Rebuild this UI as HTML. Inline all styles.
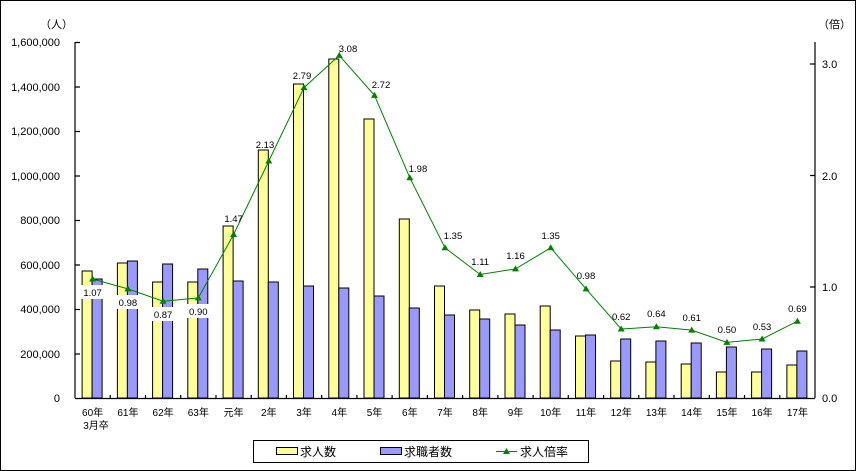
<!DOCTYPE html>
<html><head><meta charset="utf-8"><style>
body{margin:0;background:#fff}
svg{display:block;font-family:"Liberation Sans","Noto Sans CJK JP",sans-serif}
</style></head><body>
<svg width="856" height="471" viewBox="0 0 856 471" xmlns="http://www.w3.org/2000/svg">
<rect x="0.5" y="0.5" width="855" height="470" fill="#fff" stroke="#000"/>
<g font-size="11" text-anchor="end" fill="#000">
<text x="60" y="46">1,600,000</text><text x="60" y="91">1,400,000</text><text x="60" y="135">1,200,000</text><text x="60" y="180">1,000,000</text><text x="60" y="224">800,000</text><text x="60" y="269">600,000</text><text x="60" y="313">400,000</text><text x="60" y="358">200,000</text><text x="60" y="402">0</text>
</g>
<text x="40" y="28" font-size="11">（人）</text>
<text x="818" y="28" font-size="11">（倍）</text>
<g font-size="11" fill="#000">
<text x="822" y="68">3.0</text><text x="822" y="180">2.0</text><text x="822" y="291">1.0</text><text x="822" y="402">0.0</text>
</g>
<g fill="#ffff99" stroke="#000" stroke-width="1">
<rect x="82.1" y="271" width="10" height="127"/><rect x="117.4" y="263" width="10" height="135"/><rect x="152.6" y="282" width="10" height="116"/><rect x="187.8" y="282" width="10" height="116"/><rect x="223.1" y="226" width="10" height="172"/><rect x="258.3" y="150" width="10" height="248"/><rect x="293.5" y="84" width="10" height="314"/><rect x="328.8" y="59" width="10" height="339"/><rect x="364" y="119" width="10" height="279"/><rect x="399.3" y="219" width="10" height="179"/><rect x="434.5" y="286" width="10" height="112"/><rect x="469.7" y="310" width="10" height="88"/><rect x="505" y="314" width="10" height="84"/><rect x="540.2" y="306" width="10" height="92"/><rect x="575.5" y="336" width="10" height="62"/><rect x="610.7" y="361" width="10" height="37"/><rect x="645.9" y="362" width="10" height="36"/><rect x="681.2" y="364" width="10" height="34"/><rect x="716.4" y="372" width="10" height="26"/><rect x="751.6" y="372" width="10" height="26"/><rect x="786.9" y="365" width="10" height="33"/>
</g>
<g fill="#9999ff" stroke="#000" stroke-width="1">
<rect x="92.1" y="279" width="10" height="119"/><rect x="127.4" y="261" width="10" height="137"/><rect x="162.6" y="264" width="10" height="134"/><rect x="197.8" y="269" width="10" height="129"/><rect x="233.1" y="281" width="10" height="117"/><rect x="268.3" y="282" width="10" height="116"/><rect x="303.5" y="286" width="10" height="112"/><rect x="338.8" y="288" width="10" height="110"/><rect x="374" y="296" width="10" height="102"/><rect x="409.3" y="308" width="10" height="90"/><rect x="444.5" y="315" width="10" height="83"/><rect x="479.7" y="319" width="10" height="79"/><rect x="515" y="325" width="10" height="73"/><rect x="550.2" y="330" width="10" height="68"/><rect x="585.5" y="335" width="10" height="63"/><rect x="620.7" y="339" width="10" height="59"/><rect x="655.9" y="341" width="10" height="57"/><rect x="691.2" y="343" width="10" height="55"/><rect x="726.4" y="347" width="10" height="51"/><rect x="761.6" y="349" width="10" height="49"/><rect x="796.9" y="351" width="10" height="47"/>
</g>
<g stroke="#000" stroke-width="1.2">
<line x1="75" y1="42" x2="75" y2="398"/><line x1="815" y1="42" x2="815" y2="398"/><line x1="75" y1="398.5" x2="815" y2="398.5"/>
<path d="M75 42.5h5M75 87h5M75 131.5h5M75 176h5M75 220.5h5M75 265h5M75 309.5h5M75 354h5M815 64h-5M815 175.5h-5M815 287h-5"/>
<path d="M110.2 398v-3M145.5 398v-3M180.7 398v-3M216 398v-3M251.2 398v-3M286.4 398v-3M321.7 398v-3M356.9 398v-3M392.1 398v-3M427.4 398v-3M462.6 398v-3M497.9 398v-3M533.1 398v-3M568.3 398v-3M603.6 398v-3M638.8 398v-3M674 398v-3M709.3 398v-3M744.5 398v-3M779.8 398v-3"/>
</g>
<polyline fill="none" stroke="#008000" stroke-width="1" points="92.6,279 127.9,288.9 163.1,301.2 198.3,297.9 233.6,234.5 268.8,161 304,87.6 339.3,55.4 374.5,95.4 409.8,177.7 445,247.8 480.2,274.5 515.5,268.9 550.7,247.8 586,288.9 621.2,329 656.4,326.8 691.7,330.1 726.9,342.4 762.1,339 797.4,321.2"/>
<g fill="#008000">
<path d="M92.6 275.5l3.5 6h-7z M127.9 285.4l3.5 6h-7z M163.1 297.7l3.5 6h-7z M198.3 294.4l3.5 6h-7z M233.6 231l3.5 6h-7z M268.8 157.5l3.5 6h-7z M304 84.1l3.5 6h-7z M339.3 51.9l3.5 6h-7z M374.5 91.9l3.5 6h-7z M409.8 174.2l3.5 6h-7z M445 244.3l3.5 6h-7z M480.2 271l3.5 6h-7z M515.5 265.4l3.5 6h-7z M550.7 244.3l3.5 6h-7z M586 285.4l3.5 6h-7z M621.2 325.5l3.5 6h-7z M656.4 323.3l3.5 6h-7z M691.7 326.6l3.5 6h-7z M726.9 338.9l3.5 6h-7z M762.1 335.5l3.5 6h-7z M797.4 317.7l3.5 6h-7z"/>
</g>
<g fill="#fff"><rect x="79" y="285" width="26" height="14"/><rect x="114" y="295" width="26" height="14"/><rect x="149" y="307" width="26" height="14"/><rect x="184" y="304" width="26" height="14"/></g>
<g font-size="9.5" text-anchor="middle" fill="#000">
<text x="92.6" y="296">1.07</text><text x="127.9" y="306">0.98</text><text x="163.1" y="318">0.87</text><text x="198.3" y="315">0.90</text>
<text x="233.6" y="222">1.47</text><text x="265" y="148">2.13</text><text x="302" y="79">2.79</text><text x="348" y="52">3.08</text><text x="381" y="88">2.72</text><text x="418" y="172">1.98</text><text x="453" y="239">1.35</text><text x="480.2" y="265">1.11</text><text x="515.5" y="259">1.16</text><text x="550.7" y="239">1.35</text><text x="586" y="279">0.98</text><text x="621.2" y="320">0.62</text><text x="656.4" y="317">0.64</text><text x="691.7" y="321">0.61</text><text x="726.9" y="333">0.50</text><text x="762.1" y="330">0.53</text><text x="797.4" y="312">0.69</text>
</g>
<g font-size="10" text-anchor="middle" fill="#000">
<text x="92.6" y="416">60年</text><text x="96" y="429">3月卒</text><text x="127.9" y="416">61年</text><text x="163.1" y="416">62年</text><text x="198.3" y="416">63年</text><text x="233.6" y="416">元年</text><text x="268.8" y="416">2年</text><text x="304" y="416">3年</text><text x="339.3" y="416">4年</text><text x="374.5" y="416">5年</text><text x="409.8" y="416">6年</text><text x="445" y="416">7年</text><text x="480.2" y="416">8年</text><text x="515.5" y="416">9年</text><text x="550.7" y="416">10年</text><text x="586" y="416">11年</text><text x="621.2" y="416">12年</text><text x="656.4" y="416">13年</text><text x="691.7" y="416">14年</text><text x="726.9" y="416">15年</text><text x="762.1" y="416">16年</text><text x="797.4" y="416">17年</text>
</g>
<rect x="253.5" y="440.5" width="335" height="22" fill="#fff" stroke="#000"/>
<rect x="276.5" y="447.5" width="21" height="7" fill="#ffff99" stroke="#000"/>
<rect x="380.5" y="447.5" width="21" height="7" fill="#9999ff" stroke="#000"/>
<line x1="496" y1="451.5" x2="517" y2="451.5" stroke="#008000"/>
<path d="M506.5 448l3.5 6h-7z" fill="#008000"/>
<g font-size="12" fill="#000"><text x="300" y="456">求人数</text><text x="404" y="456">求職者数</text><text x="520" y="456">求人倍率</text></g>
</svg>
</body></html>
